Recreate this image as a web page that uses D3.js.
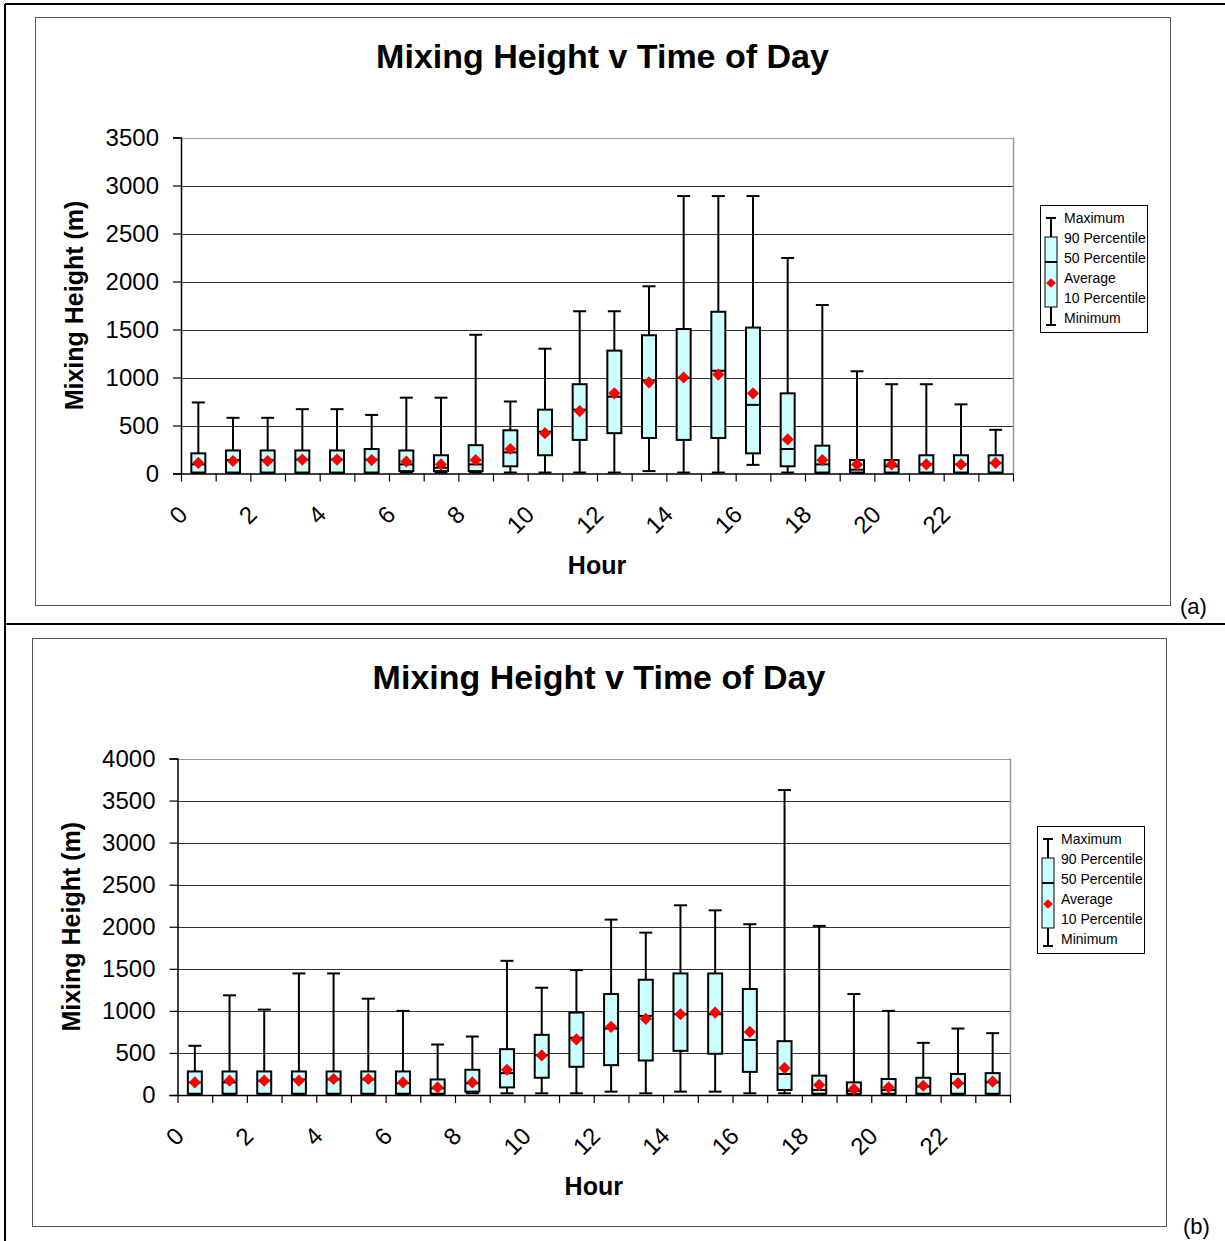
<!DOCTYPE html>
<html>
<head>
	<title></title>
	<style>
		body { margin: 0; background: #fff; }
		text { font-family: "Liberation Sans", Arial, sans-serif; }
	</style>
</head>
<body>
	<svg id="container" width="1225" height="1241"></svg>
</body>
<script src="https://d3js.org/d3.v7.min.js"></script>
<script>
	// hours of the day (category index 0..23)
	const hours = d3.range(24)
	const hourLabels = [0, 2, 4, 6, 8, 10, 12, 14, 16, 18, 20, 22]

	// chart (a)
	const aMax = [740, 580, 580, 670, 670, 610, 790, 790, 1445, 750, 1300, 1690, 1690, 1950, 2890, 2890, 2890, 2245, 1755, 1065, 930, 930, 720, 455]
	const aP90 = [210, 240, 240, 240, 240, 255, 240, 190, 295, 450, 665, 930, 1280, 1440, 1505, 1685, 1520, 835, 290, 140, 140, 190, 190, 190]
	const aP50 = [95, 140, 140, 145, 145, 145, 95, 60, 95, 220, 435, 665, 800, 970, 995, 1070, 715, 255, 95, 40, 75, 95, 95, 110]
	const aAvg = [110, 130, 130, 145, 145, 140, 125, 95, 140, 255, 420, 650, 835, 950, 1000, 1030, 835, 355, 140, 95, 95, 95, 95, 110]
	const aP10 = [10, 10, 10, 10, 10, 10, 25, 25, 25, 75, 190, 350, 420, 370, 350, 370, 210, 75, 10, 10, 10, 10, 10, 10]
	const aMin = [5, 5, 5, 5, 5, 5, 10, 10, 10, 10, 10, 10, 10, 25, 10, 10, 90, 10, 5, 5, 5, 5, 5, 5]

	// chart (b)
	const bMax = [585, 1185, 1015, 1445, 1445, 1145, 1000, 600, 695, 1595, 1275, 1485, 2085, 1930, 2255, 2195, 2030, 3625, 2010, 1200, 1000, 620, 790, 735]
	const bP90 = [280, 280, 280, 280, 280, 280, 280, 185, 300, 545, 715, 980, 1200, 1370, 1445, 1445, 1260, 640, 230, 150, 190, 205, 250, 260]
	const bP50 = [150, 150, 170, 185, 185, 185, 140, 80, 140, 260, 475, 680, 790, 940, 960, 960, 655, 250, 60, 50, 60, 100, 140, 150]
	const bAvg = [150, 170, 170, 170, 190, 190, 150, 90, 150, 300, 470, 660, 810, 905, 960, 980, 750, 320, 120, 70, 90, 110, 140, 160]
	const bP10 = [15, 15, 15, 15, 15, 15, 15, 15, 40, 90, 205, 335, 355, 410, 525, 490, 275, 60, 15, 15, 15, 15, 15, 15]
	const bMin = [10, 10, 10, 10, 10, 10, 10, 10, 20, 20, 20, 20, 40, 20, 40, 40, 20, 20, 10, 10, 10, 10, 10, 10]

	const legendItems = ["Maximum", "90 Percentile", "50 Percentile", "Average", "10 Percentile", "Minimum"]

	let svg = d3.select("#container")

	// outer frame of the figure
	svg.append("line").attr("x1", 5).attr("x2", 1225).attr("y1", 4).attr("y2", 4).attr("stroke", "#000").attr("stroke-width", 2)
	svg.append("line").attr("x1", 5).attr("x2", 5).attr("y1", 4).attr("y2", 1241).attr("stroke", "#000").attr("stroke-width", 2)
	svg.append("line").attr("x1", 5).attr("x2", 1225).attr("y1", 624).attr("y2", 624).attr("stroke", "#000").attr("stroke-width", 2)

	function drawChart(cfg) {
		let g = svg.append("g")
		let [bx0, by0, bx1, by1] = cfg.box
		let [pl, pt, pr, pb] = cfg.plot

		g.append("rect")
			.attr("x", bx0 + 0.5).attr("y", by0 + 0.5)
			.attr("width", bx1 - bx0).attr("height", by1 - by0)
			.attr("fill", "#fff").attr("stroke", "#555").attr("stroke-width", 1)

		let x = d3.scaleLinear().domain([0, 24]).range([pl, pr])
		let y = d3.scaleLinear().domain([0, cfg.yMax]).range([pb, pt])
		let yTicks = d3.range(0, cfg.yMax + 1, 500)

		// gridlines
		g.selectAll(".grid")
			.data(yTicks.filter(d => d > 0))
			.enter().append("line")
			.attr("x1", pl).attr("x2", pr)
			.attr("y1", d => Math.round(y(d)) + 0.5).attr("y2", d => Math.round(y(d)) + 0.5)
			.attr("stroke", d => d == cfg.yMax ? "#999" : "#333").attr("stroke-width", 1)

		// right border of the plot area
		g.append("line").attr("x1", pr + 0.5).attr("x2", pr + 0.5).attr("y1", pt).attr("y2", pb)
			.attr("stroke", "#999").attr("stroke-width", 1.5)

		// y axis
		let yAxis = g.append("g")
			.attr("transform", `translate(${pl},0)`)
			.call(d3.axisLeft(y).tickValues(yTicks).tickSize(8).tickPadding(14).tickFormat(d3.format("d")))
		yAxis.select(".domain").attr("stroke", "#000").attr("stroke-width", 1.5)
		yAxis.selectAll(".tick line").attr("stroke", "#000").attr("stroke-width", 1.2)
		yAxis.selectAll("text").attr("font-size", 24).attr("fill", "#000")
			.style("font-family", '"Liberation Sans", Arial, sans-serif')

		// x axis, ticks on category boundaries
		let xAxis = g.append("g")
			.attr("transform", `translate(0,${pb})`)
			.call(d3.axisBottom(x).tickValues(d3.range(25)).tickSize(8).tickSizeOuter(0).tickFormat(""))
		xAxis.select(".domain").attr("stroke", "#000").attr("stroke-width", 1.5)
		xAxis.selectAll(".tick line").attr("stroke", "#000").attr("stroke-width", 1.2)

		g.selectAll(".xlab")
			.data(hourLabels)
			.enter().append("text")
			.attr("transform", d => `translate(${x(d) + 2},${pb + 36.5}) rotate(-45)`)
			.attr("text-anchor", "end")
			.attr("dominant-baseline", "central")
			.attr("font-size", 24)
			.text(d => d)

		// boxes
		let d = cfg.data
		let bw = 14, cap = 13
		let boxes = g.selectAll(".box")
			.data(hours)
			.enter().append("g")
			.attr("transform", h => `translate(${x(h + 0.5)},0)`)

		boxes.append("line")
			.attr("y1", h => y(d.max[h])).attr("y2", h => y(d.min[h]))
			.attr("stroke", "#000").attr("stroke-width", 2)
		boxes.append("line")
			.attr("x1", -cap / 2).attr("x2", cap / 2)
			.attr("y1", h => y(d.max[h])).attr("y2", h => y(d.max[h]))
			.attr("stroke", "#000").attr("stroke-width", 2)
		boxes.append("line")
			.attr("x1", -cap / 2).attr("x2", cap / 2)
			.attr("y1", h => y(d.min[h])).attr("y2", h => y(d.min[h]))
			.attr("stroke", "#000").attr("stroke-width", 2)
		boxes.append("rect")
			.attr("x", -bw / 2).attr("width", bw)
			.attr("y", h => y(d.p90[h])).attr("height", h => y(d.p10[h]) - y(d.p90[h]))
			.attr("fill", "#ccffff").attr("stroke", "#000").attr("stroke-width", 2)
		boxes.append("line")
			.attr("x1", -bw / 2).attr("x2", bw / 2)
			.attr("y1", h => y(d.p50[h])).attr("y2", h => y(d.p50[h]))
			.attr("stroke", "#000").attr("stroke-width", 2)
		boxes.append("path")
			.attr("d", d3.symbol(d3.symbolDiamond2, 95))
			.attr("transform", h => `translate(0,${y(d.avg[h])})`)
			.attr("fill", "#ff0000")

		// titles
		let cx = (bx0 + bx1) / 2
		g.append("text").attr("x", cx).attr("y", by0 + 51)
			.attr("text-anchor", "middle").attr("font-size", 34).attr("font-weight", "bold")
			.text("Mixing Height v Time of Day")
		g.append("text").attr("x", (pl + pr) / 2).attr("y", pb + 100)
			.attr("text-anchor", "middle").attr("font-size", 25).attr("font-weight", "bold")
			.text("Hour")
		g.append("text")
			.attr("transform", `translate(${pl - 107},${(pt + pb) / 2}) rotate(-90)`)
			.attr("text-anchor", "middle").attr("dominant-baseline", "central")
			.attr("font-size", 25).attr("font-weight", "bold")
			.text("Mixing Height (m)")

		// legend
		let [lx, ly] = cfg.legend
		let lw = 107, lh = 127
		let clipId = "clip" + cfg.tag
		g.append("clipPath").attr("id", clipId)
			.append("rect").attr("x", lx).attr("y", ly).attr("width", lw).attr("height", lh)
		let leg = g.append("g")
		leg.append("rect").attr("x", lx + 0.5).attr("y", ly + 0.5).attr("width", lw).attr("height", lh)
			.attr("fill", "#fff").attr("stroke", "#000").attr("stroke-width", 1)
		let ix = lx + 11
		leg.append("line").attr("x1", ix).attr("x2", ix).attr("y1", ly + 13).attr("y2", ly + 120)
			.attr("stroke", "#000").attr("stroke-width", 2)
		leg.append("line").attr("x1", ix - 5).attr("x2", ix + 5).attr("y1", ly + 13).attr("y2", ly + 13)
			.attr("stroke", "#000").attr("stroke-width", 2)
		leg.append("line").attr("x1", ix - 5).attr("x2", ix + 5).attr("y1", ly + 120).attr("y2", ly + 120)
			.attr("stroke", "#000").attr("stroke-width", 2)
		leg.append("rect").attr("x", ix - 6).attr("y", ly + 32).attr("width", 12).attr("height", 70)
			.attr("fill", "#ccffff").attr("stroke", "#000").attr("stroke-width", 1)
		leg.append("line").attr("x1", ix - 6).attr("x2", ix + 6).attr("y1", ly + 57).attr("y2", ly + 57)
			.attr("stroke", "#000").attr("stroke-width", 2)
		leg.append("path").attr("d", d3.symbol(d3.symbolDiamond2, 60))
			.attr("transform", `translate(${ix},${ly + 78})`).attr("fill", "#ff0000")
		leg.append("g").attr("clip-path", `url(#${clipId})`)
			.selectAll("text")
			.data(legendItems)
			.enter().append("text")
			.attr("x", lx + 24).attr("y", (t, i) => ly + 13 + i * 20)
			.attr("dominant-baseline", "central")
			.attr("font-size", 14)
			.text(t => t)

		// panel tag
		svg.append("text").attr("x", cfg.tagPos[0]).attr("y", cfg.tagPos[1])
			.attr("font-size", 22).text(`(${cfg.tag})`)
	}

	drawChart({
		box: [35, 17, 1170, 605],
		plot: [181, 137.5, 1013, 473.5],
		yMax: 3500,
		data: { max: aMax, p90: aP90, p50: aP50, avg: aAvg, p10: aP10, min: aMin },
		legend: [1040, 205],
		tag: "a",
		tagPos: [1180, 614]
	})

	drawChart({
		box: [32, 638, 1166, 1226],
		plot: [177.5, 758.5, 1010, 1095],
		yMax: 4000,
		data: { max: bMax, p90: bP90, p50: bP50, avg: bAvg, p10: bP10, min: bMin },
		legend: [1037, 826],
		tag: "b",
		tagPos: [1183, 1234]
	})
</script>
</html>
